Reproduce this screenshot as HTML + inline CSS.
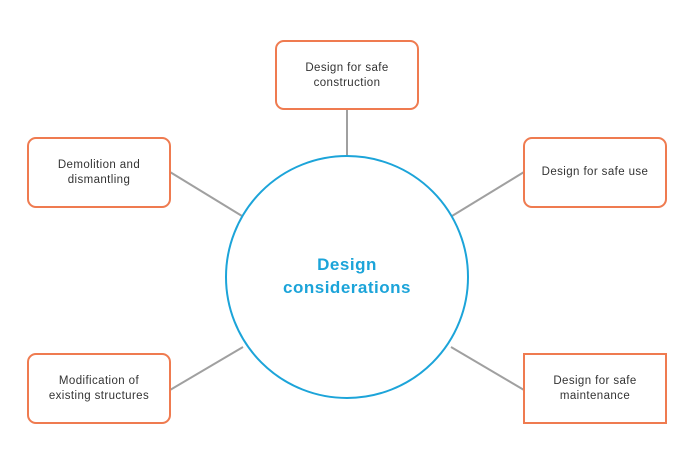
<!DOCTYPE html>
<html><head><style>body{margin:0;background:#fff}svg{display:block}</style></head>
<body>
<svg width="690" height="456" xmlns="http://www.w3.org/2000/svg" font-family="Liberation Sans, sans-serif">
<g stroke="#a0a0a0" stroke-width="2">
<line x1="347" y1="109" x2="347" y2="157"/>
<line x1="170" y1="172" x2="242" y2="216"/>
<line x1="524" y1="172" x2="452" y2="216"/>
<line x1="170" y1="390" x2="243" y2="347"/>
<line x1="524" y1="390" x2="451" y2="347"/>
</g>
<circle cx="347" cy="277" r="121" fill="#fff" stroke="#1ca4d9" stroke-width="2"/>
<g fill="#fff" stroke="#ef7b50" stroke-width="2">
<rect x="276" y="41" width="142" height="68" rx="8"/>
<rect x="28" y="138" width="142" height="69" rx="8"/>
<rect x="524" y="138" width="142" height="69" rx="8"/>
<rect x="28" y="354" width="142" height="69" rx="8"/>
<rect x="524" y="354" width="142" height="69"/>
</g>
<g fill="#333" font-size="11.5" letter-spacing="0.4" text-anchor="middle">
<text x="347" y="71">Design for safe</text><text x="347" y="86">construction</text>
<text x="99" y="168">Demolition and</text><text x="99" y="183">dismantling</text>
<text x="595" y="175">Design for safe use</text>
<text x="99" y="384">Modification of</text><text x="99" y="399">existing structures</text>
<text x="595" y="384">Design for safe</text><text x="595" y="399">maintenance</text>
</g>
<g fill="#1ca4d9" font-size="17" font-weight="bold" letter-spacing="0.5" text-anchor="middle">
<text x="347" y="270">Design</text><text x="347" y="293">considerations</text>
</g>
</svg>
</body></html>
